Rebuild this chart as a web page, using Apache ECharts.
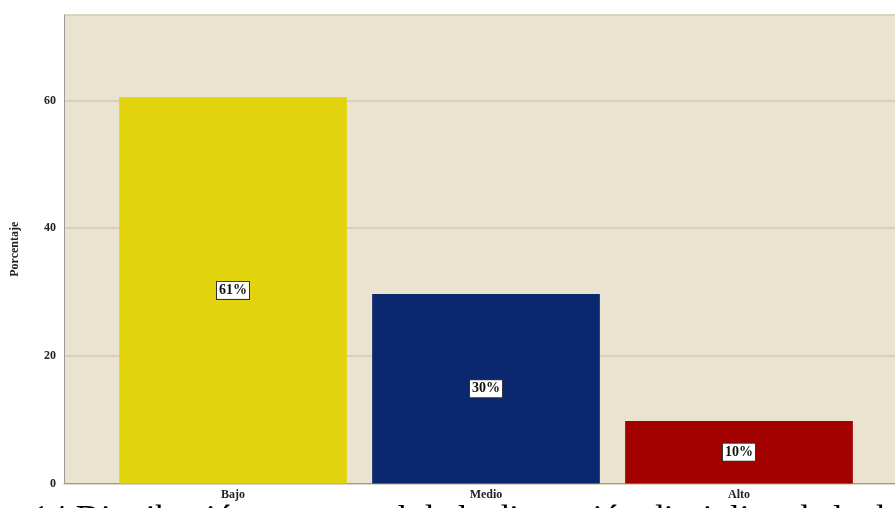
<!DOCTYPE html>
<html>
<head>
<meta charset="utf-8">
<script src="https://cdn.jsdelivr.net/npm/echarts@6/dist/echarts.min.js"></script>
<style>
html,body{margin:0;padding:0;background:#fff;}
#chart{width:895px;height:508px;}
</style>
</head>
<body>
<div id="chart"></div>
<script>
var categories = ['Bajo', 'Medio', 'Alto'];
var values = [60.5, 29.7, 9.8];
var pctLabels = ['61%', '30%', '10%'];
var barColors = ['#E2D40C', '#0B276F', '#A30000'];
var yTicks = [0, 20, 40, 60];
var captionText = '14 Distribución porcentual de la dimensión disciplina de la d';

var chart = echarts.init(document.getElementById('chart'));
var serif = '"Liberation Serif", "DejaVu Serif", serif';
var option = {
  animation: false,
  backgroundColor: '#ffffff',
  grid: [
    {left: 64, right: 0, top: 15, bottom: 24.5, show: true, backgroundColor: '#EAE3D0', borderWidth: 0},
    {left: 106.5, right: 29.5, top: 15, bottom: 24.5}
  ],
  xAxis: [
    {type: 'value', gridIndex: 0, min: 0, max: 1, axisLabel: {show: false}, axisTick: {show: false},
     splitLine: {show: false}, axisLine: {show: true, lineStyle: {color: '#9a9a9a', width: 1}}},
    {type: 'category', gridIndex: 1, data: categories,
     axisLine: {show: false}, axisTick: {show: false},
     axisLabel: {margin: 5, color: '#222', fontFamily: serif, fontWeight: 'bold', fontSize: 12}}
  ],
  yAxis: [
    {type: 'value', gridIndex: 0, min: 0, max: 73.4, interval: 20,
     name: 'Porcentaje', nameLocation: 'middle', nameGap: 43, nameRotate: 90,
     nameTextStyle: {color: '#222', fontFamily: serif, fontWeight: 'bold', fontSize: 12},
     axisLine: {show: true, lineStyle: {color: '#9a9a9a'}},
     axisTick: {show: false},
     axisLabel: {color: '#222', fontFamily: serif, fontWeight: 'bold', fontSize: 12, margin: 8,
       formatter: function (v) { return yTicks.indexOf(v) >= 0 ? String(v) : ''; }},
     splitLine: {show: true, lineStyle: {color: '#D2CAB3', width: 1.5}}},
    {type: 'value', gridIndex: 1, min: 0, max: 73.4, interval: 20, show: false, splitLine: {show: false}}
  ],
  series: [{
    type: 'bar', xAxisIndex: 1, yAxisIndex: 1, barCategoryGap: '10%',
    data: values.map(function (v, i) { return {value: v, itemStyle: {color: barColors[i]}}; }),
    label: {
      show: true, position: 'inside',
      formatter: function (p) { return pctLabels[p.dataIndex]; },
      color: '#111', fontFamily: serif, fontWeight: 'bold', fontSize: 14,
      backgroundColor: '#ffffff', borderColor: '#333', borderWidth: 1, padding: [2, 2, 1, 2]
    }
  }],
  graphic: [{
    type: 'text', left: 32, top: 503, z: -1,
    style: {text: captionText, fill: '#000', font: '35px ' + serif}
  }]
};
chart.setOption(option);
</script>
</body>
</html>
